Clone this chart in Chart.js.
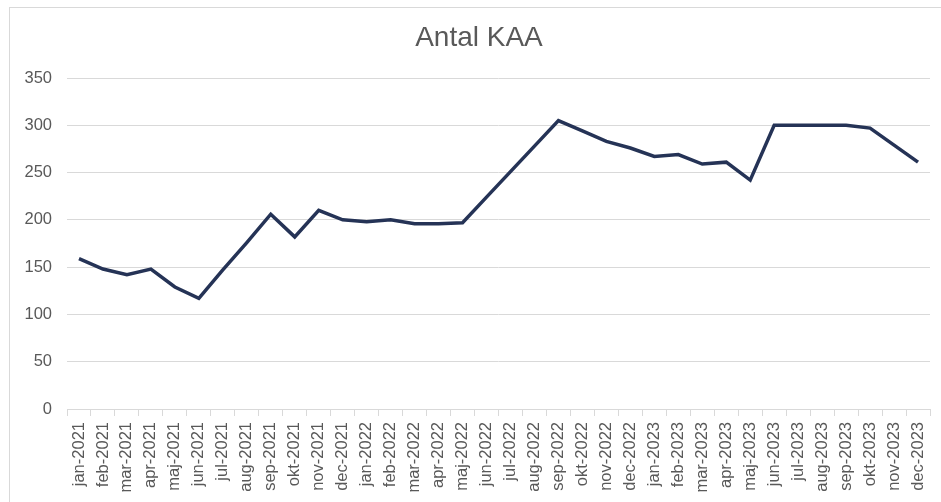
<!DOCTYPE html>
<html>
<head>
<meta charset="utf-8">
<script src="https://cdn.jsdelivr.net/npm/chart.js@4.4.1/dist/chart.umd.min.js"></script>
<style>
  body { margin: 0; background: #fff; }
  #wrap { position: relative; width: 941px; height: 502px; overflow: hidden; }
  #frame { position: absolute; left: 9px; top: 7px; width: 950px; height: 510px; border: 1px solid #d9d9d9; pointer-events: none; }
  #title { position: absolute; left: 379px; width: 200px; top: 20px; text-align: center;
           font: 28px 'Liberation Sans', Arial, sans-serif; color: #595959; line-height: 34px; }
</style>
</head>
<body>
<div id="wrap">
  <canvas id="kaaChart" width="941" height="502"></canvas>
  <div id="frame"></div>
  <div id="title">Antal KAA</div>
</div>
<script>
const months = ['jan', 'feb', 'mar', 'apr', 'maj', 'jun', 'jul', 'aug', 'sep', 'okt', 'nov', 'dec'];
const years = ['2021', '2022', '2023'];
const labels = [];
years.forEach(y => months.forEach(m => labels.push(m + '-' + y)));

const kaa2021 = [159, 148, 142, 148, 129, 117, 147, 176, 206, 182, 210, 200];
const kaa2022 = [198, 200, 196, 196, 197, 224, 251, 278, 305, 294, 283, 276];
const kaa2023 = [267, 269, 259, 261, 242, 300, 300, 300, 300, 297, 279, 261];
const antalKAA = kaa2021.concat(kaa2022, kaa2023);

const yTicks = [0, 50, 100, 150, 200, 250, 300, 350];

let kaaChart = new Chart(document.getElementById('kaaChart'), {
  type: 'line',
  data: {
    labels: labels,
    datasets: [{
      label: 'Antal KAA',
      data: antalKAA,
      borderColor: '#253356',
      backgroundColor: '#253356',
      borderWidth: 3.5,
      pointRadius: 0,
      tension: 0
    }]
  },
  options: {
    responsive: false,
    animation: false,
    layout: {
      padding: { left: 9, right: 11, top: 78, bottom: 0 }
    },
    plugins: {
      legend: { display: false },
      tooltip: { enabled: false },
      title: { display: false }
    },
    scales: {
      x: {
        offset: true,
        grid: {
          offset: true,
          drawOnChartArea: false,
          drawTicks: true,
          tickLength: 7,
          color: '#d9d9d9'
        },
        border: { color: '#d9d9d9' },
        ticks: {
          autoSkip: false,
          maxRotation: 90,
          minRotation: 90,
          padding: 6,
          color: '#595959',
          font: { family: 'Liberation Sans, Arial', size: 16.5 }
        },
        afterFit: s => { s.height = 93; s.paddingLeft = 0; s.paddingRight = 0; }
      },
      y: {
        min: 0,
        max: 350,
        afterBuildTicks: s => { s.ticks = yTicks.map(v => ({ value: v })); },
        grid: { color: '#d9d9d9', drawTicks: false },
        border: { display: false },
        ticks: {
          padding: 15,
          color: '#595959',
          font: { family: 'Liberation Sans, Arial', size: 16.5 }
        },
        afterFit: s => { s.width = 58; }
      }
    }
  }
});
</script>
</body>
</html>
